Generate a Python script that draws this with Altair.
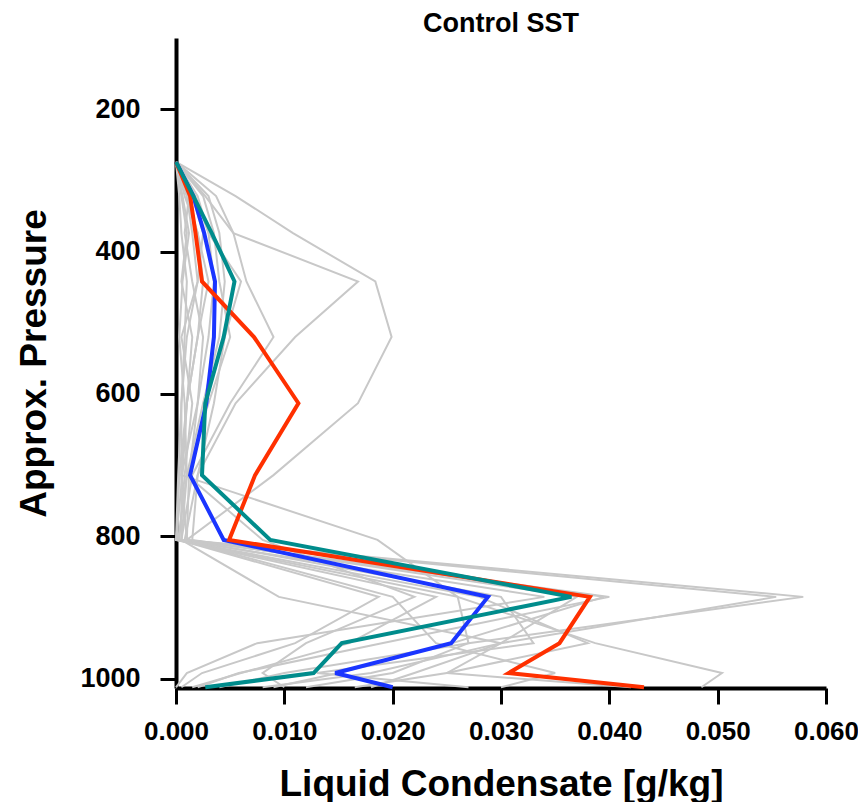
import altair as alt
import pandas as pd

levels = [274, 322, 374, 442, 520, 613, 714, 805, 885, 950, 992, 1012]

# colored profiles (g/kg)
red = [0.0, 0.0013, 0.0018, 0.0024, 0.0072, 0.0113, 0.0073, 0.0049, 0.0382, 0.0354, 0.0307, 0.0432]
blue = [0.0, 0.0016, 0.0026, 0.0036, 0.0035, 0.0028, 0.0013, 0.0044, 0.0288, 0.0254, 0.0147, 0.0200]
teal = [0.0, 0.0016, 0.0033, 0.0054, 0.0044, 0.0027, 0.0024, 0.0087, 0.0365, 0.0153, 0.0127, 0.0027]

# ensemble members (1e-3 g/kg)
members = [
    [0, 5.5, 10.8, 18.4, 19.9, 16.8, 9.0, 1.0, 39.5, 25.5, 15.0, 9.0],
    [0, 2.7, 5.3, 16.8, 11.0, 5.5, 2.0, 0.8, 57.9, 27.0, 20.0, 12.0],
    [0, 3.7, 5.3, 6.5, 9.0, 5.0, 1.5, 0.5, 55.4, 30.0, 25.0, 16.5],
    [0, 1.0, 1.5, 2.0, 1.0, 0.5, 0.5, 18.6, 26.0, 38.7, 50.4, 48.5],
    [0, 2.0, 3.0, 3.5, 3.0, 2.0, 0.5, 1.0, 40.0, 19.0, 5.8, 2.0],
    [0, 1.5, 2.5, 2.0, 0.5, 1.5, 0.8, 0.3, 18.7, 11.0, 2.4, 0.5],
    [0, 0.5, 1.0, 0.5, 1.5, 1.0, 0.6, 0.0, 26.0, 27.0, 10.0, 4.0],
    [0, 2.5, 3.5, 4.0, 5.0, 3.0, 1.0, 0.2, 34.0, 7.5, 1.0, 0.0],
    [0, 1.2, 0.8, 1.5, 2.5, 2.0, 1.2, 1.0, 30.0, 33.0, 13.0, 27.0],
    [0, 0.8, 2.0, 3.0, 2.0, 1.0, 0.3, 0.1, 28.0, 38.0, 25.0, 42.0],
    [0, 3.0, 4.0, 4.5, 4.0, 2.5, 1.0, 0.5, 20.0, 24.0, 35.0, 30.0],
    [0, 0.3, 0.5, 1.0, 0.8, 0.5, 0.2, 0.0, 24.0, 16.0, 6.0, 1.5],
    [0, 1.8, 3.0, 6.0, 4.5, 3.5, 2.0, 1.5, 37.0, 30.0, 22.0, 18.0],
    [0, 0.6, 1.2, 0.6, 0.3, 0.8, 1.0, 8.0, 22.0, 12.0, 8.0, 10.0],
    [0, 1.0, 2.0, 2.5, 2.0, 1.0, 0.5, 0.5, 9.5, 30.0, 18.0, 8.0],
]

x_ticks = [0.0, 0.01, 0.02, 0.03, 0.04, 0.05, 0.06]
y_ticks = [200, 400, 600, 800, 1000]

rows = []
for i, m in enumerate(members):
    for p, v in zip(levels, m):
        rows.append({"m": f"g{i}", "p": p, "q": v * 0.001})
gray_df = pd.DataFrame(rows)


def prof(vals):
    return pd.DataFrame({"p": levels, "q": vals})


FONT = "Liberation Sans"
xscale = alt.Scale(domain=[0, 0.06], nice=False, zero=False)
yscale = alt.Scale(domain=[100, 1013], reverse=True, nice=False, zero=False)

xenc = alt.X("q:Q", scale=xscale,
             axis=alt.Axis(values=x_ticks, format=".3f", title="Liquid Condensate [g/kg]",
                           labelFlush=False, labelOverlap=False, labelFontSize=26))
yenc = alt.Y("p:Q", scale=yscale,
             axis=alt.Axis(values=y_ticks, format="d", title="Approx. Pressure",
                           labelFlush=False, labelOverlap=False))

gray = alt.Chart(gray_df).mark_line(color="#c8c8c8", strokeWidth=2).encode(
    x=xenc, y=yenc, detail="m:N", order="p:Q")


def colored(vals, color):
    return alt.Chart(prof(vals)).mark_line(color=color, strokeWidth=4).encode(
        x=xenc, y=yenc, order="p:Q")


chart = alt.layer(
    gray,
    colored(blue, "#1a35ff"),
    colored(red, "#ff3000"),
    colored(teal, "#008c8c"),
).properties(
    width=650, height=650,
    title=alt.TitleParams("Control SST", font=FONT, fontSize=27, fontWeight="bold",
                          anchor="middle", offset=0, color="black"),
    autosize=alt.AutoSizeParams(type="none"),
    padding={"left": 168, "top": 30, "right": 32, "bottom": 114},
).configure_view(stroke=None).configure_axis(
    grid=False,
    domainColor="black", domainWidth=4,
    tickColor="black", tickWidth=3, tickSize=16,
    labelFont=FONT, labelFontSize=27, labelFontWeight="bold", labelColor="black",
    titleFont=FONT, titleFontSize=37, titleFontWeight="bold", titleColor="black",
).configure_axisX(labelPadding=14, titlePadding=22).configure_axisY(labelPadding=20, titlePadding=26)

chart.save("out.html", embed_options={"renderer": "svg", "actions": False})
